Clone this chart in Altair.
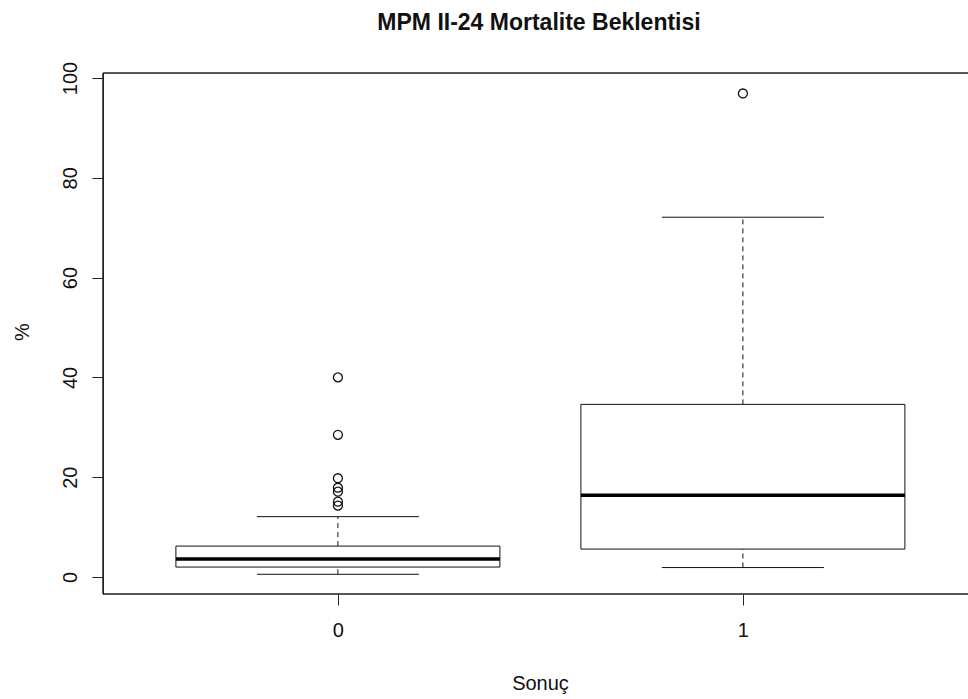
import altair as alt
import pandas as pd

# ---- data ----
groups = ["0", "1"]
positions = [1, 2]
q1 = [2.0, 5.6]
median = [3.6, 16.4]
q3 = [6.2, 34.6]
whisk_low = [0.55, 1.9]
whisk_high = [12.1, 72.1]
outlier_group = [1, 1, 1, 1, 1, 1, 1, 2]
outlier_values = [40.0, 28.5, 19.8, 17.9, 17.1, 15.1, 14.3, 96.9]

W, H = 865, 521
font = "Liberation Sans"

stats = pd.DataFrame({
    "grp": groups, "pos": positions, "q1": q1, "med": median, "q3": q3,
    "lo": whisk_low, "hi": whisk_high,
})
stats["bl"] = stats["pos"] - 0.4
stats["br"] = stats["pos"] + 0.4
stats["cl"] = stats["pos"] - 0.2
stats["cr"] = stats["pos"] + 0.2
outs = pd.DataFrame({"pos": outlier_group, "val": outlier_values})

xs = alt.Scale(domain=[0.42, 0.42 + W / 405.0], nice=False, zero=False)
ys = alt.Scale(domain=[-3.4, 101.0], nice=False, zero=False)

x_axis = alt.Axis(values=[1, 2], labelExpr="datum.value == 1 ? '0' : '1'",
                  title="Sonuç", grid=False, domain=False, tickSize=11,
                  tickColor="#222", labelFontSize=20, labelFont=font,
                  labelColor="#111", labelPadding=15, titleFontSize=20,
                  titleFont=font, titleFontWeight="normal", titleColor="#111",
                  titleX=437, titleY=89, titleBaseline="middle", titleAnchor="start",
                  titleAlign="center")
y_axis = alt.Axis(values=[0, 20, 40, 60, 80, 100], title="%", grid=False,
                  domain=True, domainColor="#222", tickSize=11, tickColor="#222",
                  labelAngle=-90, labelAlign="center", labelBaseline="alphabetic",
                  labelPadding=16, labelFontSize=20, labelFont=font,
                  labelColor="#111", titleFontSize=20, titleFont=font,
                  titleFontWeight="normal", titleColor="#111", titleX=-81,
                  titleY=H / 2 - 2, titleAngle=-90, titleBaseline="middle",
                  titleAlign="center")

base = alt.Chart(stats)

box = base.mark_rect(fill="white", stroke="#111", strokeWidth=1).encode(
    x=alt.X("bl:Q", scale=xs, axis=x_axis), x2="br:Q",
    y=alt.Y("q1:Q", scale=ys, axis=y_axis), y2="q3:Q",
)
med = base.mark_rule(color="black", strokeWidth=3.5).encode(
    x=alt.X("bl:Q", scale=xs), x2="br:Q", y=alt.Y("med:Q", scale=ys))
up_wh = base.mark_rule(color="#111", strokeWidth=1, strokeDash=[5, 4]).encode(
    x=alt.X("pos:Q", scale=xs), y=alt.Y("q3:Q", scale=ys), y2="hi:Q")
lo_wh = base.mark_rule(color="#111", strokeWidth=1, strokeDash=[5, 4]).encode(
    x=alt.X("pos:Q", scale=xs), y=alt.Y("lo:Q", scale=ys), y2="q1:Q")
up_cap = base.mark_rule(color="#111", strokeWidth=1).encode(
    x=alt.X("cl:Q", scale=xs), x2="cr:Q", y=alt.Y("hi:Q", scale=ys))
lo_cap = base.mark_rule(color="#111", strokeWidth=1).encode(
    x=alt.X("cl:Q", scale=xs), x2="cr:Q", y=alt.Y("lo:Q", scale=ys))
pts = alt.Chart(outs).mark_point(shape="circle", filled=False, color="#111",
                                 size=80, strokeWidth=1.3, opacity=1).encode(
    x=alt.X("pos:Q", scale=xs), y=alt.Y("val:Q", scale=ys))

frame_top = base.mark_rule(color="#222", strokeWidth=1).encode(
    x=alt.value(0), x2=alt.value(W + 5), y=alt.value(0))
frame_bot = base.mark_rule(color="#222", strokeWidth=1).encode(
    x=alt.value(0), x2=alt.value(W + 5), y=alt.value(H))
frame_left = base.mark_rule(color="#222", strokeWidth=1).encode(
    x=alt.value(0), y=alt.value(0), y2=alt.value(H))

chart = alt.layer(
    frame_top, frame_bot, frame_left, lo_wh, up_wh, up_cap, lo_cap, box, med, pts
).properties(
    width=W, height=H,
    title=alt.TitleParams("MPM II-24 Mortalite Beklentisi", font=font, fontSize=23,
                          fontWeight="bold", color="#111", anchor="middle",
                          dx=3.5, offset=26),
    padding={"left": 103, "top": 73, "right": 0, "bottom": 105},
    autosize=alt.AutoSizeParams(type="none"),
).configure_view(stroke=None).configure(background="white")

chart.save("out.html", embed_options={"renderer": "svg", "actions": False})
